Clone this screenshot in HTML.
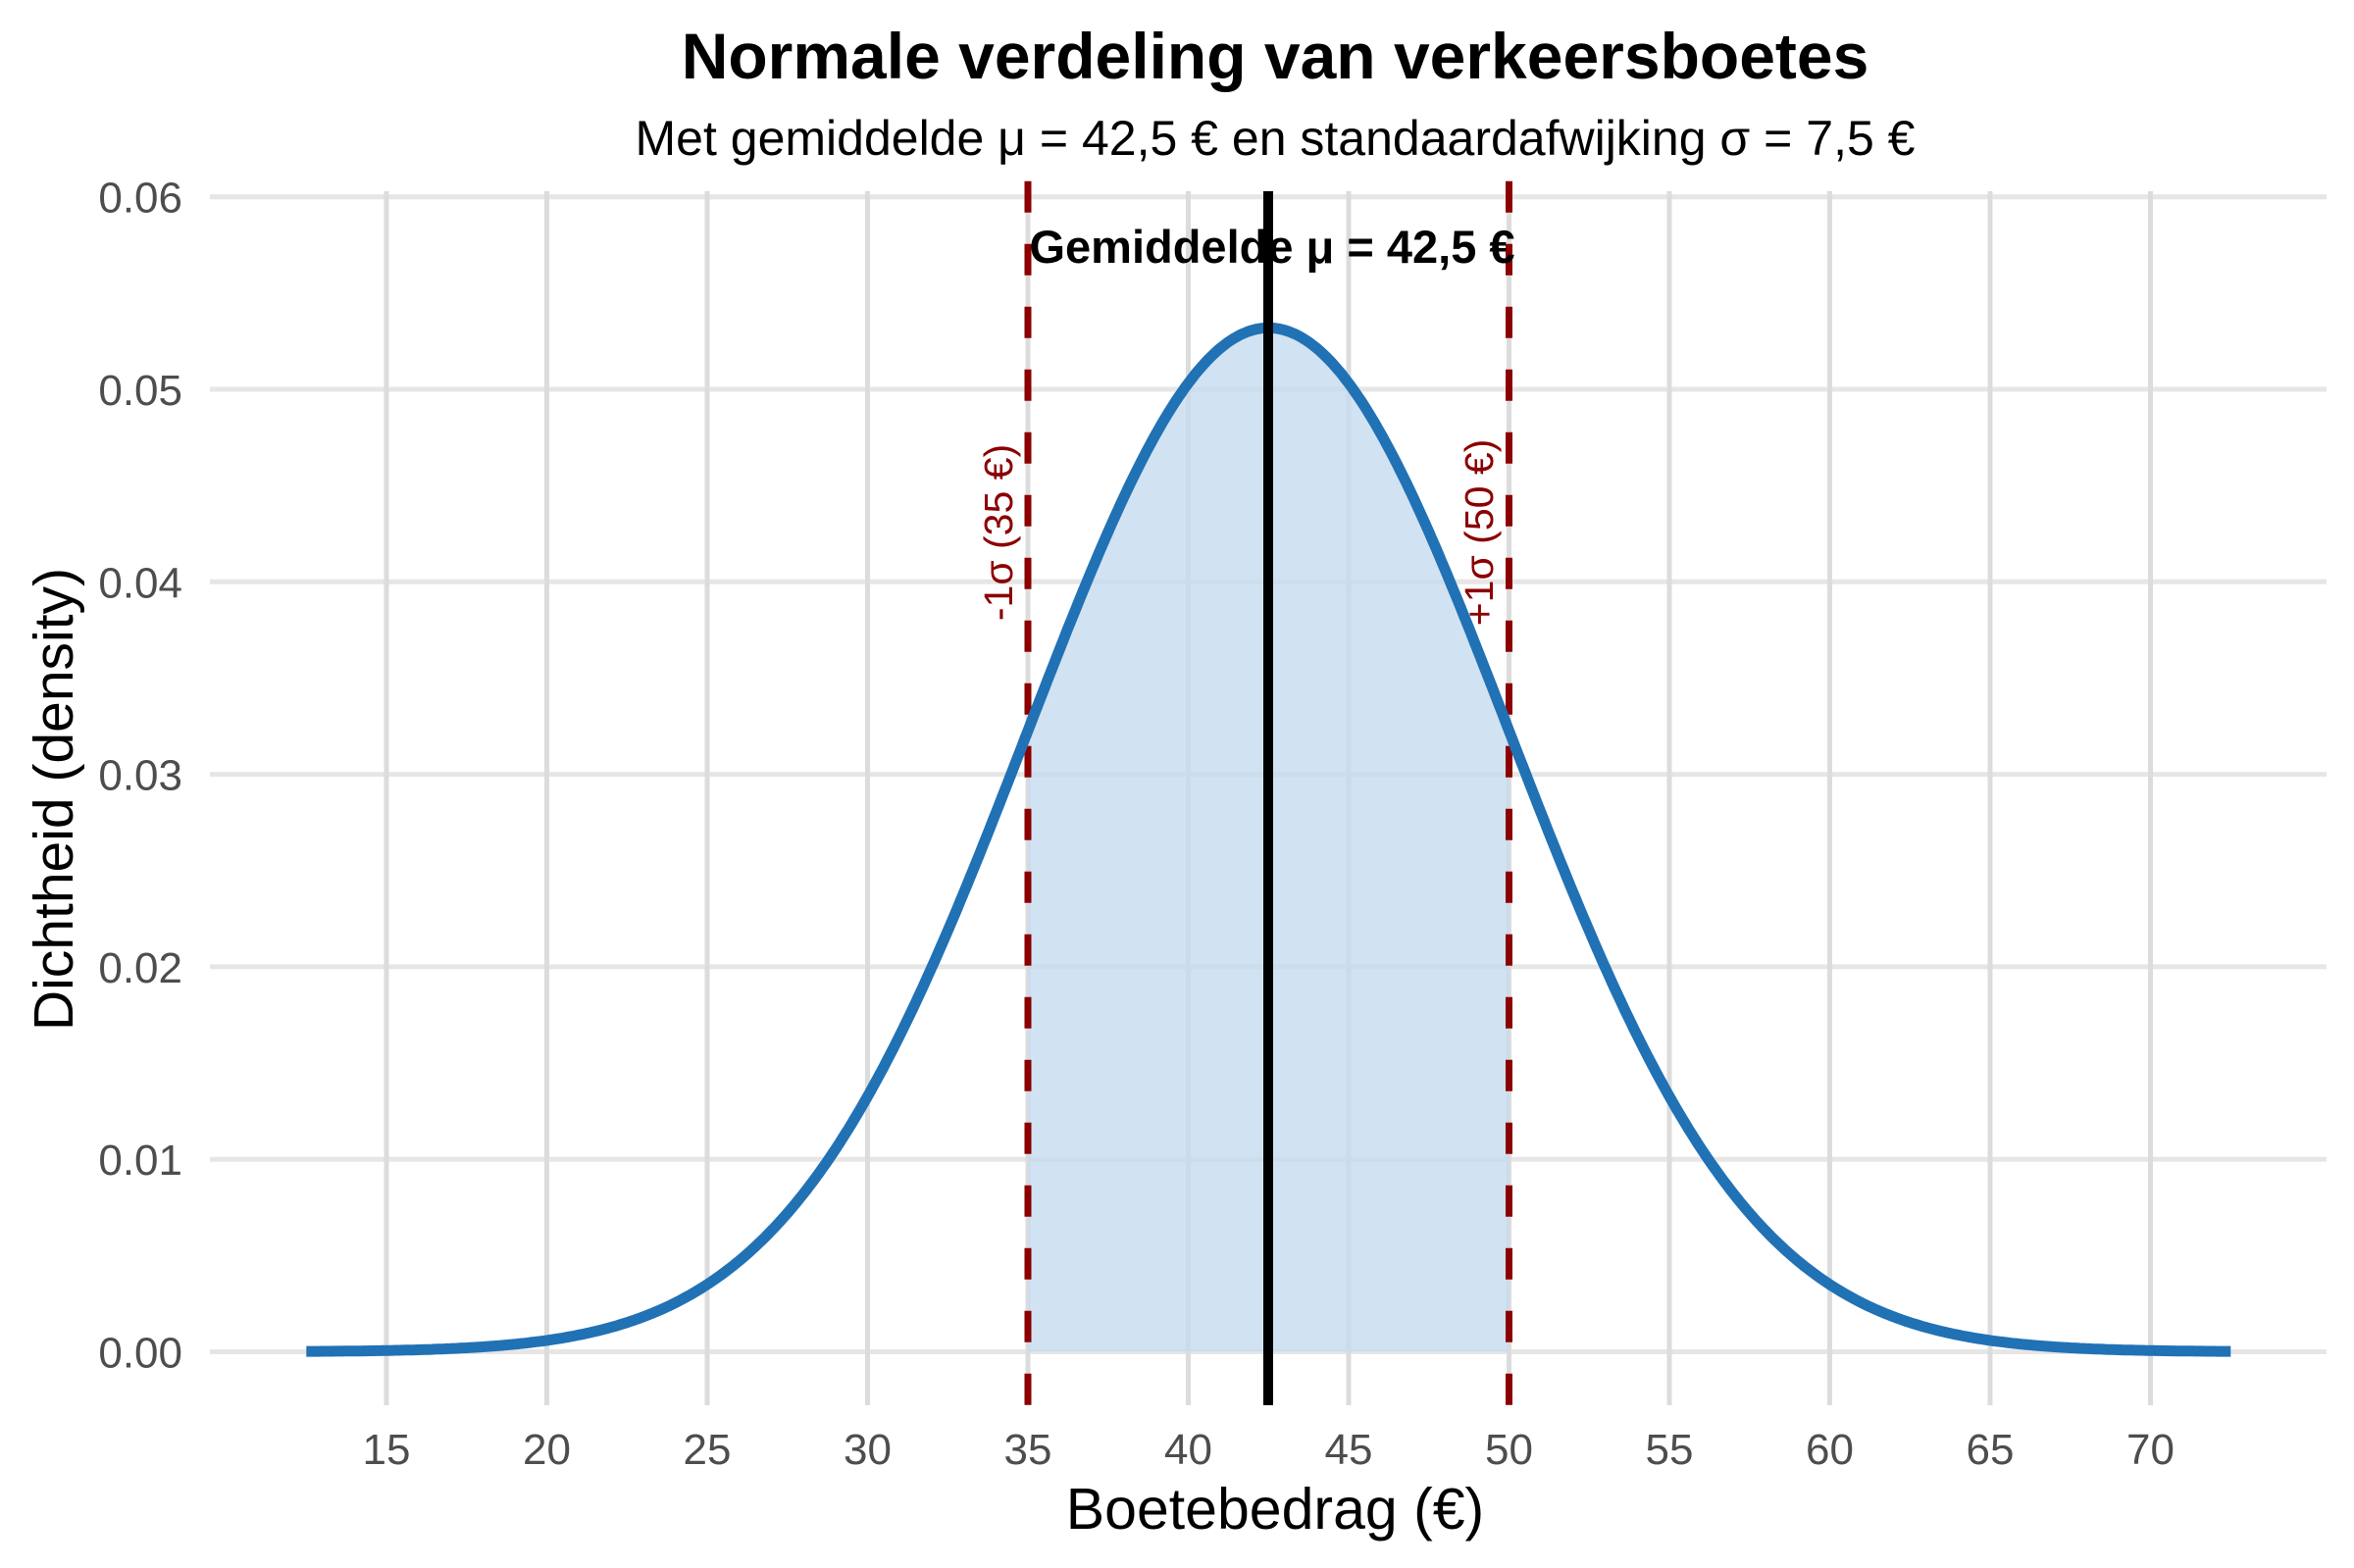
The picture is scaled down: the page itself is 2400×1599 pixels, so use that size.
<!DOCTYPE html>
<html><head><meta charset="utf-8">
<style>html,body{margin:0;padding:0;background:#fff}svg{display:block}</style>
</head><body>
<svg id="s" xmlns="http://www.w3.org/2000/svg" width="2400" height="1599" viewBox="0 0 2400 1599" font-family="Liberation Sans, Arial, sans-serif">
<rect width="2400" height="1599" fill="#fff"/>
<g id="grid"></g>
<path id="fill" fill="#c6dbef" fill-opacity="0.8"/>
<g id="vlines"></g>
<path id="curve" fill="none" stroke="#2171b5" stroke-width="11" stroke-linejoin="round"/>
<line x1="1293" y1="195" x2="1293" y2="1433" stroke="#000" stroke-width="10"/>
<text x="1297" y="268" text-anchor="middle" font-size="47" font-weight="bold">Gemiddelde μ = 42,5 €</text>
<text transform="translate(1032,543) rotate(-90)" text-anchor="middle" font-size="41" fill="#8b0000">-1σ (35 €)</text>
<text transform="translate(1522,543) rotate(-90)" text-anchor="middle" font-size="41" fill="#8b0000">+1σ (50 €)</text>
<text x="1300" y="80" text-anchor="middle" font-size="66" font-weight="bold">Normale verdeling van verkeersboetes</text>
<text x="1300" y="158" text-anchor="middle" font-size="50">Met gemiddelde μ = 42,5 € en standaardafwijking σ = 7,5 €</text>
<text x="1300" y="1559" text-anchor="middle" font-size="59">Boetebedrag (€)</text>
<text transform="translate(74,815) rotate(-90)" text-anchor="middle" font-size="57">Dichtheid (density)</text>
<g id="labels" font-size="44" fill="#4d4d4d"></g>
</svg>
<script>
var NS="http://www.w3.org/2000/svg";
function X(v){return 394+(v-15)*32.7;}
function Y(d){return 1378.5-d*19630;}
function el(p,t,a,txt){var e=document.createElementNS(NS,t);for(var k in a)e.setAttribute(k,a[k]);if(txt!==undefined)e.textContent=txt;document.getElementById(p).appendChild(e);return e;}
for(var i=0;i<=6;i++){var y=Y(i*0.01);
 el("grid","line",{x1:214,x2:2372,y1:y,y2:y,stroke:"#e6e6e6","stroke-width":5});
 el("labels","text",{x:186,y:y+16,"text-anchor":"end"},(i*0.01).toFixed(2));}
for(var v=15;v<=70;v+=5){var x=X(v);
 el("grid","line",{x1:x,x2:x,y1:195,y2:1433,stroke:"#dcdcdc","stroke-width":5});
 el("labels","text",{x:x,y:1493,"text-anchor":"middle"},String(v));}
function f(t){return Math.exp(-0.5*Math.pow((t-42.5)/7.5,2))/(7.5*Math.sqrt(2*Math.PI));}
var d="";for(var t=12.5;t<=72.5001;t+=0.1){d+=(d?"L":"M")+X(t).toFixed(1)+","+Y(f(t)).toFixed(1);}
document.getElementById("curve").setAttribute("d",d);
var fd="M"+X(35)+","+Y(0);for(var t=35;t<=50.0001;t+=0.1){fd+="L"+X(t).toFixed(1)+","+Y(f(t)).toFixed(1);}
fd+="L"+X(50)+","+Y(0)+"Z";document.getElementById("fill").setAttribute("d",fd);
[35,50].forEach(function(v){el("vlines","line",{x1:X(v),x2:X(v),y1:184.7,y2:1440,stroke:"#8b0000","stroke-width":7,"stroke-dasharray":"32 32"});});
</script>
</body></html>
